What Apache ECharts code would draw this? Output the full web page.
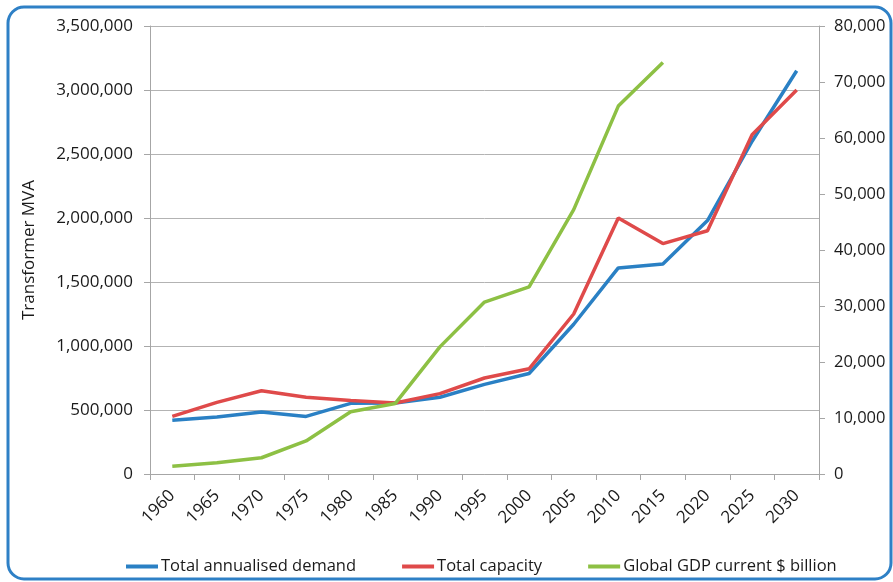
<!DOCTYPE html>
<html>
<head>
<meta charset="utf-8">
<style>
  html, body { margin: 0; padding: 0; background: #ffffff; }
  #chart { width: 893px; height: 582px; }
</style>
<script src="https://cdn.jsdelivr.net/npm/echarts@6/dist/echarts.min.js"></script>
</head>
<body>
<div id="chart"></div>
<script>
// Years on the category axis
const years = ['1960', '1965', '1970', '1975', '1980', '1985', '1990', '1995',
               '2000', '2005', '2010', '2015', '2020', '2025', '2030'];

// Transformer MVA (left axis)
const totalDemand = [420000, 445000, 485000, 450000, 552000, 555000, 600000, 700000,
                     785000, 1170000, 1610000, 1640000, 1980000, 2600000, 3150000];
const totalCapacity = [450000, 560000, 650000, 600000, 575000, 555000, 628000, 750000,
                       822000, 1250000, 2000000, 1800000, 1900000, 2650000, 3000000];

// Global GDP, current $ billion (right axis) – no figures after 2015
const globalGdp = [1370, 2000, 2900, 5900, 11100, 12600, 22700, 30700,
                   33400, 47200, 65700, 73500, null, null, null];

// Tick settings
const leftMax = 3500000, leftStep = 500000;
const rightMax = 80000, rightStep = 10000;

const FONT = 'Open Sans';
const TEXT = '#1a1a1a';
const AXIS = '#a6a6a6';
const FS = 17;

const fmt = v => Number(v).toLocaleString('en-US');

const chart = echarts.init(document.getElementById('chart'), null, { renderer: 'canvas' });

chart.setOption({
  animation: false,
  textStyle: { fontFamily: FONT },
  graphic: [{
    type: 'rect',
    shape: { x: 8, y: 7, width: 883, height: 572, r: 16 },
    style: { fill: 'none', stroke: '#2e80c6', lineWidth: 3 },
    z: -1
  }],
  grid: { left: 150, right: 74, top: 26, bottom: 108, containLabel: false },
  legend: {
    bottom: 2,
    left: 121,
    itemWidth: 32,
    itemHeight: 4,
    itemGap: 46,
    icon: 'rect',
    textStyle: { fontFamily: FONT, fontSize: 16.5, color: TEXT, padding: [0, 0, 0, -2] },
    data: ['Total annualised demand', 'Total capacity', 'Global GDP current $ billion']
  },
  xAxis: {
    type: 'category',
    data: years,
    boundaryGap: true,
    axisLine: { lineStyle: { color: AXIS, width: 1 } },
    axisTick: { show: true, length: 6, lineStyle: { color: AXIS } },
    axisLabel: {
      rotate: 45, fontFamily: FONT, fontSize: FS, color: TEXT, margin: 19
    },
    splitLine: { show: false }
  },
  yAxis: [{
    type: 'value',
    min: 0, max: leftMax, interval: leftStep,
    name: 'Transformer MVA',
    nameLocation: 'middle',
    nameGap: 112,
    nameRotate: 90,
    nameTextStyle: { fontFamily: FONT, fontSize: FS, color: TEXT },
    axisLine: { show: true, lineStyle: { color: AXIS } },
    axisTick: { show: true, length: 6, lineStyle: { color: AXIS } },
    axisLabel: { fontFamily: FONT, fontSize: FS, color: TEXT, margin: 17, formatter: fmt },
    splitLine: { show: true, lineStyle: { color: '#b3b3b3', width: 1 } }
  }, {
    type: 'value',
    min: 0, max: rightMax, interval: rightStep,
    position: 'right',
    axisLine: { show: true, lineStyle: { color: AXIS } },
    axisTick: { show: true, length: 6, lineStyle: { color: AXIS } },
    axisLabel: { fontFamily: FONT, fontSize: 16.5, color: TEXT, margin: 15, formatter: fmt },
    splitLine: { show: false }
  }],
  series: [{
    name: 'Total annualised demand',
    type: 'line',
    yAxisIndex: 0,
    data: totalDemand,
    symbol: 'none',
    itemStyle: { color: '#2a80c4' },
    lineStyle: { color: '#2a80c4', width: 3.5 },
    z: 3
  }, {
    name: 'Total capacity',
    type: 'line',
    yAxisIndex: 0,
    data: totalCapacity,
    symbol: 'none',
    itemStyle: { color: '#df4a4a' },
    lineStyle: { color: '#df4a4a', width: 3.5 },
    z: 4
  }, {
    name: 'Global GDP current $ billion',
    type: 'line',
    yAxisIndex: 1,
    data: globalGdp,
    symbol: 'none',
    itemStyle: { color: '#8dc044' },
    lineStyle: { color: '#8dc044', width: 3.5 },
    z: 5
  }]
});
</script>
</body>
</html>
